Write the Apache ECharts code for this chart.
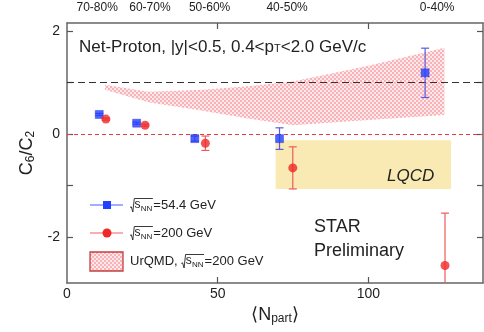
<!DOCTYPE html>
<html><head><meta charset="utf-8">
<script src="https://cdn.jsdelivr.net/npm/echarts@6/dist/echarts.min.js"></script>
<style>html,body{margin:0;padding:0;background:#fff}#c{width:484px;height:332px}</style>
</head><body><div id="c"></div>
<script>
// ---- data ----
const npart54 = [10.7, 23.1, 42.4, 70.5, 118.8];
const c6c2_54 = [0.38, 0.21, -0.09, -0.09, 1.19];
const err54 = [0.02, 0.02, 0.05, 0.21, 0.48];
const npart200 = [12.9, 25.9, 45.9, 74.9, 125.4];
const c6c2_200 = [0.29, 0.17, -0.18, -0.66, -2.56];
const err200 = [0.02, 0.02, 0.14, 0.41, 1.02];
const urqmdN = [12.6, 27, 45, 60, 75, 100, 125.2];
const urqmdLow = [0.86, 0.62, 0.45, 0.30, 0.17, 0.27, 0.37];
const urqmdHigh = [0.96, 0.82, 0.86, 0.93, 1.02, 1.33, 1.68];
const lqcdN = [69.2, 127.4];
const lqcdC6C2 = [-1.07, -0.12];
const centralityLabels = ['70-80%', '60-70%', '50-60%', '40-50%', '0-40%'];
const centralityN = [10, 27.5, 47.3, 73, 122.8];
const xTickLabels = [0, 50, 100];
const xTicks = [50, 100];
const yTickLabels = [-2, 0, 2];
const yTicks = [-2, -1, 0, 1, 2];
const refLines = [0, 1];
const legendNames = ['=54.4 GeV', '=200 GeV', '=200 GeV'];
const legendPrefix = ['', '', 'UrQMD, '];

// ---- styles ----
const FONT = 'Liberation Sans, Arial, Helvetica, sans-serif';
const BLUE = '#2240ff', RED = '#f02828';
const pc = document.createElement('canvas'); pc.width = 4; pc.height = 4;
const g = pc.getContext('2d'); g.fillStyle = 'rgb(248,178,184)';
g.fillRect(0, 0, 2, 2); g.fillRect(2, 2, 2, 2);
g.fillStyle = 'rgb(253,232,234)'; g.fillRect(2, 0, 2, 2); g.fillRect(0, 2, 2, 2);
const pattern = { image: pc, repeat: 'repeat' };
const mctx = document.createElement('canvas').getContext('2d');
function tw(t, f) { mctx.font = f; return mctx.measureText(t).width; }

const chart = echarts.init(document.getElementById('c'), null, { renderer: 'canvas' });

function errSeries(xs, ys, es, color) {
  return {
    type: 'custom', z: 3, clip: true, silent: true,
    data: xs.map((x, i) => [x, ys[i] - es[i], ys[i] + es[i]]),
    renderItem: (p, api) => {
      const lo = api.coord([api.value(0), api.value(1)]);
      const hi = api.coord([api.value(0), api.value(2)]);
      const w = 4, st = { stroke: color, lineWidth: 1.2 };
      return { type: 'group', children: [
        { type: 'line', shape: { x1: lo[0], y1: lo[1], x2: hi[0], y2: hi[1] }, style: st },
        { type: 'line', shape: { x1: lo[0] - w, y1: lo[1], x2: lo[0] + w, y2: lo[1] }, style: st },
        { type: 'line', shape: { x1: hi[0] - w, y1: hi[1], x2: hi[0] + w, y2: hi[1] }, style: st }
      ] };
    }
  };
}

// legend label with a drawn radical sign
function legendText(k, x, y) {
  const f13 = '13px ' + FONT;
  const px = tw(legendPrefix[k], f13);
  const x0 = x + px;
  const els = [];
  if (legendPrefix[k]) els.push({ type: 'text', x: x, y: y, z: 10, style: { text: legendPrefix[k], verticalAlign: 'middle', font: f13, fill: '#222' } });
  const sW = tw('s', '12px ' + FONT), nW = tw('NN', '8px ' + FONT);
  const xs = x0 + 4.5, xn = xs + sW + 0.3, xe = xn + nW + 1;
  els.push({ type: 'polyline', z: 10, shape: { points: [[x0, y + 2.5], [x0 + 1.3, y + 1.8], [x0 + 2.8, y + 7], [x0 + 4.3, y - 6.5], [xe - 0.5, y - 6.5]] },
    style: { stroke: '#222', lineWidth: 0.9, fill: null } });
  els.push({ type: 'text', x: xs, y: y - 0.5, z: 10, style: { text: 's', verticalAlign: 'middle', font: '12px ' + FONT, fill: '#222' } });
  els.push({ type: 'text', x: xn, y: y + 3.5, z: 10, style: { text: 'NN', verticalAlign: 'middle', font: '8px ' + FONT, fill: '#222' } });
  els.push({ type: 'text', x: xe, y: y, z: 10, style: { text: legendNames[k], verticalAlign: 'middle', font: f13, fill: '#222' } });
  return els;
}

const axisLine = { show: true, onZero: false, lineStyle: { color: '#666', width: 1.5 } };
const tickStyle = { inside: true, length: 6, lineStyle: { color: '#555', width: 1.2 } };
const labelStyle = { color: '#222', fontSize: 14, fontFamily: FONT };
const subRich = {
  a: { fontSize: 18, fontFamily: FONT, color: '#222' },
  b: { fontSize: 12, fontFamily: FONT, color: '#222', padding: [8, 0, 0, 0] }
};

const option = {
  animation: false,
  grid: { left: 67, right: 1, top: 23, bottom: 49, containLabel: false },
  xAxis: [
    { type: 'value', position: 'bottom', min: 0, max: 138,
      axisLine, splitLine: { show: false },
      axisTick: Object.assign({ customValues: xTicks }, tickStyle),
      axisLabel: Object.assign({ customValues: xTickLabels, margin: 4 }, labelStyle),
      name: '{a|\u27E8N}{b|part}{a|\u27E9}', nameLocation: 'middle', nameGap: 18,
      nameTextStyle: { rich: subRich } },
    { type: 'value', position: 'top', min: 0, max: 138,
      axisLine, splitLine: { show: false },
      axisTick: Object.assign({ customValues: xTicks }, tickStyle),
      axisLabel: { customValues: centralityN, margin: 9, color: '#222', fontSize: 12, fontFamily: FONT,
        formatter: v => centralityLabels[centralityN.indexOf(v)] } }
  ],
  yAxis: [
    { type: 'value', position: 'left', min: -2.9, max: 2.16,
      axisLine, splitLine: { show: false },
      axisTick: Object.assign({ customValues: yTicks }, tickStyle),
      axisLabel: Object.assign({ customValues: yTickLabels, margin: 7 }, labelStyle),
      name: '{a|C}{b|6}{a|/C}{b|2}', nameLocation: 'middle', nameRotate: 90, nameGap: 27,
      nameTextStyle: { rich: subRich } },
    { type: 'value', position: 'right', min: -2.9, max: 2.16,
      axisLine, splitLine: { show: false },
      axisTick: Object.assign({ customValues: yTicks }, tickStyle),
      axisLabel: { show: false } }
  ],
  series: [
    { // UrQMD band
      type: 'custom', z: 1, clip: true, silent: true,
      data: urqmdN.map((n, i) => [n, urqmdLow[i], urqmdHigh[i]]),
      renderItem: (p, api) => {
        if (p.dataIndex !== 0) return null;
        const pts = [];
        for (let i = 0; i < urqmdN.length; i++) pts.push(api.coord([urqmdN[i], urqmdHigh[i]]));
        for (let i = urqmdN.length - 1; i >= 0; i--) pts.push(api.coord([urqmdN[i], urqmdLow[i]]));
        return { type: 'polygon', shape: { points: pts }, style: { fill: pattern } };
      }
    },
    { // LQCD band + reference lines
      type: 'custom', z: 1, clip: true, silent: true,
      data: [[lqcdN[0], lqcdC6C2[0], lqcdN[1], lqcdC6C2[1]]],
      renderItem: (p, api) => {
        const a = api.coord([api.value(0), api.value(3)]);
        const b = api.coord([api.value(2), api.value(1)]);
        return { type: 'rect', shape: { x: a[0], y: a[1], width: b[0] - a[0], height: b[1] - a[1] },
          style: { fill: '#f8eab2' } };
      },
      markLine: {
        silent: true, symbol: ['none', 'none'], label: { show: false }, z: 2,
        data: [
          { yAxis: refLines[0], lineStyle: { color: '#e83a3a', type: [4, 3], width: 1.2 } },
          { yAxis: refLines[1], lineStyle: { color: '#333', type: [7, 4], width: 1.1 } }
        ]
      }
    },
    errSeries(npart54, c6c2_54, err54, '#5a5ae6'),
    errSeries(npart200, c6c2_200, err200, '#f05a5a'),
    { type: 'scatter', z: 4, symbol: 'rect', symbolSize: 8, silent: true,
      itemStyle: { color: BLUE, borderColor: '#1a2ad0', borderWidth: 0.5 },
      data: npart54.map((x, i) => [x, c6c2_54[i]]) },
    { type: 'scatter', z: 4, symbol: 'circle', symbolSize: 9, silent: true,
      itemStyle: { color: RED },
      data: npart200.map((x, i) => [x, c6c2_200[i]]) }
  ],
  graphic: [
    { type: 'text', x: 79, y: 47, z: 10, style: {
      text: 'Net-Proton, |y|<0.5, 0.4<p{t|T}<2.0 GeV/c', verticalAlign: 'middle',
      font: '17px ' + FONT, fill: '#222',
      rich: { t: { fontSize: 11, fontFamily: FONT, fill: '#222', padding: [4, 0, 0, 0] } } } },
    { type: 'text', x: 314, y: 227, z: 10, style: { text: 'STAR', verticalAlign: 'middle', font: '18px ' + FONT, fill: '#222' } },
    { type: 'text', x: 314, y: 251, z: 10, style: { text: 'Preliminary', verticalAlign: 'middle', font: '18px ' + FONT, fill: '#222' } },
    { type: 'text', x: 387, y: 176, z: 10, style: { text: 'LQCD', verticalAlign: 'middle', font: 'italic 17px ' + FONT, fill: '#222' } },
    // legend
    { type: 'line', z: 10, shape: { x1: 90, y1: 205, x2: 123, y2: 205 }, style: { stroke: '#4060ff', lineWidth: 1.2 } },
    { type: 'rect', z: 11, shape: { x: 103, y: 201, width: 8, height: 8 }, style: { fill: BLUE } },
    { type: 'line', z: 10, shape: { x1: 90, y1: 233, x2: 123, y2: 233 }, style: { stroke: '#f06060', lineWidth: 1.2 } },
    { type: 'circle', z: 11, shape: { cx: 107, cy: 233, r: 4.5 }, style: { fill: RED } },
    { type: 'rect', z: 10, shape: { x: 90, y: 252, width: 33, height: 19 }, style: { fill: pattern, stroke: '#c04040', lineWidth: 1.3 } }
  ].concat(legendText(0, 130, 205), legendText(1, 130, 233), legendText(2, 130, 261))
};
chart.setOption(option);
</script></body></html>
